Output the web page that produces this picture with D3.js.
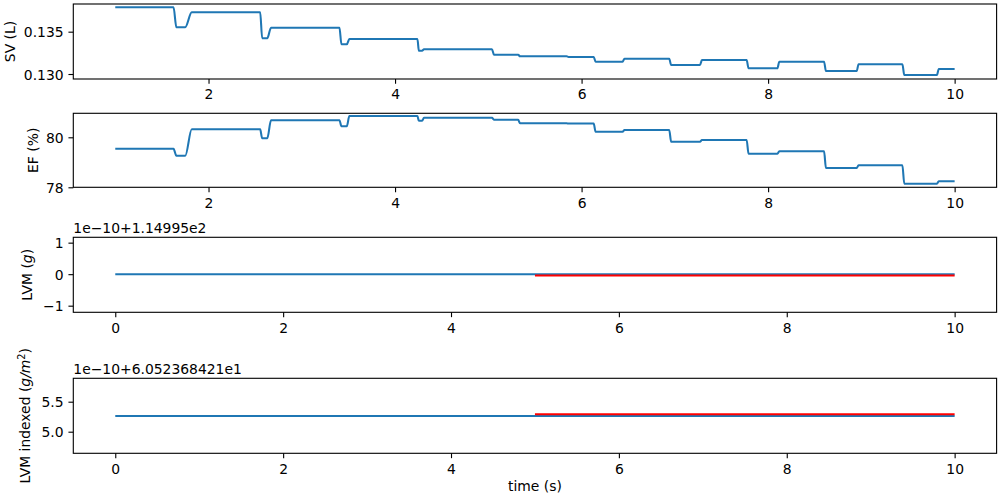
<!DOCTYPE html>
<html><head><meta charset="utf-8">
<script src="https://cdn.jsdelivr.net/npm/d3@7"></script>
<style>
html,body{margin:0;padding:0;background:#fff;}
svg{display:block;font-family:"DejaVu Sans",sans-serif;}
</style></head>
<body><svg id="c" width="1000" height="500"></svg>
<script>
// ---------- data ----------
// Panel 1 & 2 share breakpoints (time in s)
const stepTimes = [1.00,1.625,1.655,1.75,1.82,2.554,2.575,2.63,2.67,3.404,3.425,3.483,3.51,4.24,4.255,4.29,4.31,5.04,5.06,5.32,5.34,5.84,5.86,6.13,6.15,6.44,6.46,6.94,6.96,7.27,7.29,7.77,7.79,8.10,8.12,8.60,8.62,8.95,8.97,9.44,9.46,9.81,9.83,10.0];
const svValues = [0.13788,0.13788,0.13552,0.13552,0.13729,0.13729,0.13422,0.13422,0.13547,0.13547,0.13351,0.13351,0.13414,0.13414,0.13275,0.13275,0.13292,0.13292,0.13228,0.13228,0.13209,0.13209,0.13201,0.13201,0.13145,0.13145,0.13181,0.13181,0.13106,0.13106,0.13165,0.13165,0.13067,0.13067,0.13145,0.13145,0.13035,0.13035,0.13115,0.13115,0.12988,0.12988,0.13059,0.13059];
const efValues = [79.54,79.54,79.26,79.26,80.32,80.32,79.96,79.96,80.68,80.68,80.44,80.44,80.85,80.85,80.66,80.66,80.78,80.78,80.70,80.70,80.56,80.56,80.55,80.55,80.22,80.22,80.29,80.29,79.82,79.82,79.89,79.89,79.34,79.34,79.44,79.44,78.77,78.77,78.88,78.88,78.14,78.14,78.24,78.24];
// Panels 3 & 4: values relative to the offset (units of 1e-10)
const lvmTimes = [0,10];
const lvmValues = [0.0,0.0];
const lvmRefTimes = [5,10];
const lvmRefValues = [-0.04,-0.04];
const lvmiTimes = [0,10];
const lvmiValues = [5.263,5.263];
const lvmiRefTimes = [5,10];
const lvmiRefValues = [5.29,5.29];
// tick labels
const xTicksA = [2,4,6,8,10];
const xTicksB = [0,2,4,6,8,10];
const svTicks = [0.130,0.135];
const efTicks = [78,80];
const lvmTicks = [-1,0,1];
const lvmiTicks = [5.0,5.5];
const lvmOffset = "1e\u221210+1.14995e2";
const lvmiOffset = "1e\u221210+6.052368421e1";
const xLabel = "time (s)";

// ---------- layout ----------
const FS = 13.9, TL = 4.86, PAD = 4.86, LW = 2.08, SW = 1.11;
const left = 73.3, right = 996.6;
const svg = d3.select("#c");
const blue = "#1f77b4", red = "#ff0000";

function panel(o){
  const g = svg.append("g");
  const x = d3.scaleLinear().domain(o.xd).range([left,right]);
  const y = d3.scaleLinear().domain(o.yd).range([o.bot,o.top]);
  const line = d3.line().x(d=>x(d[0])).y(d=>y(d[1])).curve(d3.curveMonotoneX);
  o.series.forEach(s=>{
    g.append("path").datum(d3.zip(s.t,s.v)).attr("d",line)
     .attr("fill","none").attr("stroke",s.c).attr("stroke-width",LW)
     .attr("stroke-linejoin","round").attr("stroke-linecap","butt");
  });
  const xa = d3.axisBottom(x).tickValues(o.xt).tickSize(TL).tickPadding(PAD).tickFormat(d3.format("d"));
  const gx = g.append("g").attr("transform",`translate(0,${o.bot})`).call(xa);
  const ya = d3.axisLeft(y).tickValues(o.yt).tickSize(TL).tickPadding(PAD).tickFormat(d3.format(o.yf));
  const gy = g.append("g").attr("transform",`translate(${left},0)`).call(ya);
  [gx,gy].forEach(a=>{
    a.select(".domain").remove();
    a.selectAll(".tick line").attr("stroke","#000").attr("stroke-width",SW);
    a.selectAll(".tick text").attr("fill","#000").style("font-size",FS+"px").style("font-family","DejaVu Sans");
  });
  gx.selectAll(".tick text").attr("dy","0.76em");
  gy.selectAll(".tick text").attr("dy","0.36em");
  g.append("rect").attr("x",left).attr("y",o.top).attr("width",right-left).attr("height",o.bot-o.top)
   .attr("fill","none").attr("stroke","#000").attr("stroke-width",SW);
  // y label
  const t = g.append("text").attr("transform",`translate(${o.lx},${(o.top+o.bot)/2}) rotate(-90)`)
    .attr("text-anchor","middle").style("font-size",FS+"px").attr("fill","#000");
  o.label.forEach(p=>{
    const ts = t.append("tspan").text(p.s);
    if(p.i) ts.style("font-style","italic");
    if(p.sup) ts.attr("dy",-FS*0.35).style("font-size",(FS*0.7)+"px");
    if(p.after) ts.attr("dy",FS*0.35);
  });
  if(o.offset){
    g.append("text").attr("x",left).attr("y",o.top-4.3).text(o.offset)
     .style("font-size",FS+"px").attr("fill","#000");
  }
  return {x,y};
}

panel({top:4,bot:79,xd:[0.55,10.45],yd:[0.12941,0.13827],xt:xTicksA,yt:svTicks,yf:".3f",lx:15,
  label:[{s:"SV (L)"}],
  series:[{t:stepTimes,v:svValues,c:blue}]});
panel({top:113.3,bot:187.3,xd:[0.55,10.45],yd:[78.0,80.96],xt:xTicksA,yt:efTicks,yf:"d",lx:37.5,
  label:[{s:"EF (%)"}],
  series:[{t:stepTimes,v:efValues,c:blue}]});
panel({top:237.3,bot:312.3,xd:[-0.5,10.5],yd:[-1.21,1.17],xt:xTicksB,yt:lvmTicks,yf:"d",lx:32.3,
  label:[{s:"LVM ("},{s:"g",i:true},{s:")"}],offset:lvmOffset,
  series:[{t:lvmTimes,v:lvmValues,c:blue},{t:lvmRefTimes,v:lvmRefValues,c:red}]});
panel({top:378.3,bot:453.3,xd:[-0.5,10.5],yd:[4.64,5.89],xt:xTicksB,yt:lvmiTicks,yf:".1f",lx:30,
  label:[{s:"LVM indexed ("},{s:"g/m",i:true},{s:"2",sup:true},{s:")",after:true}],offset:lvmiOffset,
  series:[{t:lvmiTimes,v:lvmiValues,c:blue},{t:lvmiRefTimes,v:lvmiRefValues,c:red}]});

svg.append("text").attr("x",(left+right)/2).attr("y",491).attr("text-anchor","middle")
  .style("font-size",FS+"px").attr("fill","#000").text(xLabel);
</script></body></html>
